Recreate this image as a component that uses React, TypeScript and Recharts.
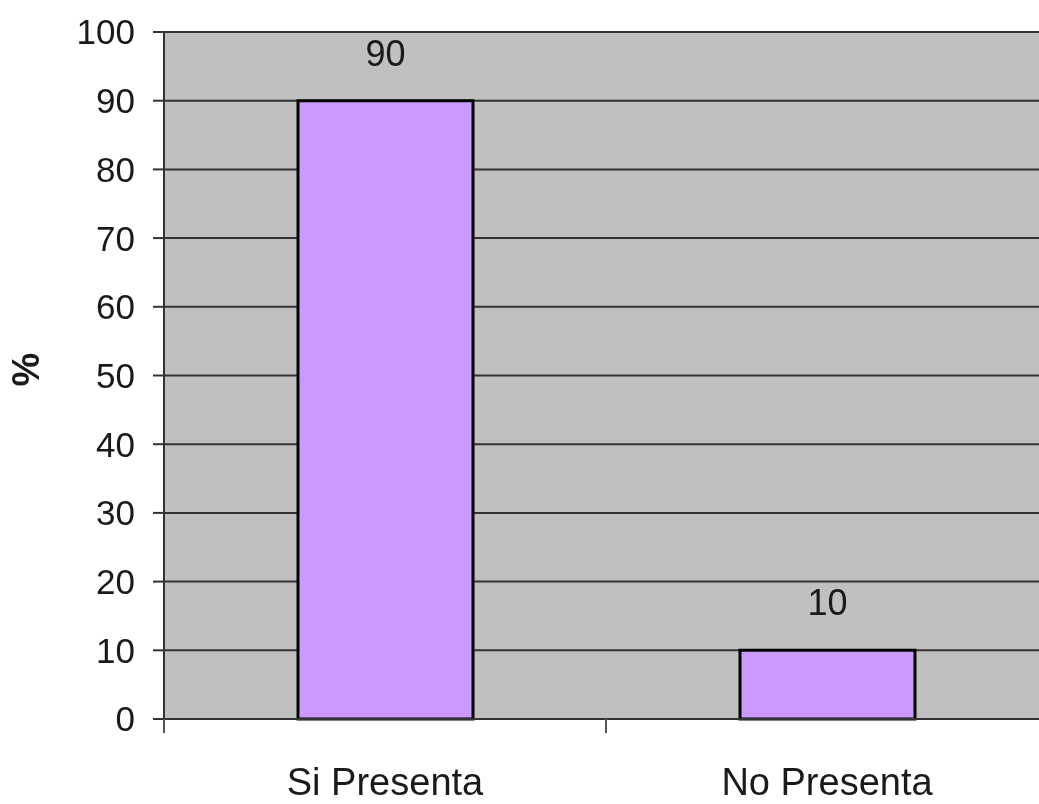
import React from "react";
import { BarChart, Bar, XAxis, YAxis, CartesianGrid, LabelList } from "recharts";

const categories = ["Si Presenta", "No Presenta"];
const percentages = [90, 10];
const yTicks = [0, 10, 20, 30, 40, 50, 60, 70, 80, 90, 100];

const data = categories.map((name, i) => ({ name, value: percentages[i] }));

const FONT = "'Liberation Sans', Arial, sans-serif";
const INK = "#1a1a1a";

// Excel-style category tick: marks sit on band boundaries, label in the middle
function CategoryTick(props: any) {
  const { x, y, payload } = props;
  const half = payload && payload.offset ? payload.offset : 0;
  return (
    <g>
      <line x1={x - half} x2={x - half} y1={y} y2={y + 14} stroke="#555" strokeWidth={2} />
      <line x1={x + half} x2={x + half} y1={y} y2={y + 14} stroke="#555" strokeWidth={2} />
      <text x={x} y={y + 76} textAnchor="middle" fontSize={38} fontFamily={FONT} fill={INK}>
        {payload.value}
      </text>
    </g>
  );
}

function PercentLabel(props: any) {
  const vb = props.viewBox || {};
  const cx = (vb.x || 0) + 18;
  const cy = (vb.y || 0) + (vb.height || 0) / 2 - 6;
  return (
    <text
      x={cx}
      y={cy}
      transform={`rotate(-90 ${cx} ${cy})`}
      textAnchor="middle"
      dominantBaseline="central"
      fontSize={38}
      fontWeight="bold"
      fontFamily={FONT}
      fill={INK}
    >
      %
    </text>
  );
}

export default function App() {
  return (
    <div style={{ position: "fixed", left: 8, top: 8, width: 1031, height: 796, overflow: "hidden" }}>
      <BarChart
        width={1060}
        height={788}
        data={data}
        margin={{ top: 24, right: 20, bottom: 0, left: 0 }}
      >
        <CartesianGrid vertical={false} stroke="#333" strokeWidth={2} fill="#C0C0C0" strokeOpacity={1} />
        <XAxis
          dataKey="name"
          height={77}
          tickSize={0}
          tickMargin={0}
          tickLine={false}
          axisLine={{ stroke: "#333", strokeWidth: 2 }}
          tick={<CategoryTick />}
          interval={0}
        />
        <YAxis
          width={156}
          domain={[0, 100]}
          ticks={yTicks}
          interval={0}
          tickSize={11}
          tickMargin={18}
          tickLine={{ stroke: "#333", strokeWidth: 2 }}
          axisLine={{ stroke: "#333", strokeWidth: 2 }}
          tick={{ fontSize: 35, fontFamily: FONT, fill: INK }}
          label={<PercentLabel />}
        />
        <Bar dataKey="value" fill="#CC99FF" stroke="#000" strokeWidth={3} barSize={175} isAnimationActive={false}>
          <LabelList dataKey="value" position="top" offset={35} fontSize={36} fontFamily={FONT} fill={INK} />
        </Bar>
      </BarChart>
    </div>
  );
}
